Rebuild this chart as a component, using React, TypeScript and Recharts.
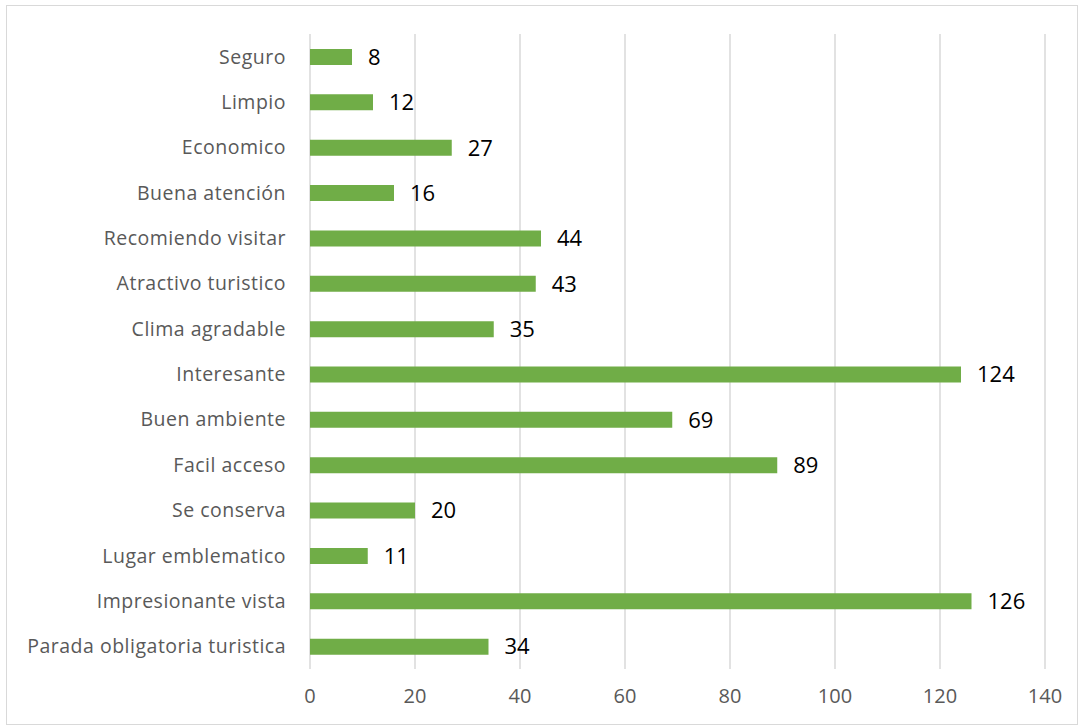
import React from 'react';
import { BarChart, Bar, XAxis, YAxis, CartesianGrid, LabelList } from 'recharts';

const categories = [
    'Seguro',
    'Limpio',
    'Economico',
    'Buena atención',
    'Recomiendo visitar',
    'Atractivo turistico',
    'Clima agradable',
    'Interesante',
    'Buen ambiente',
    'Facil acceso',
    'Se conserva',
    'Lugar emblematico',
    'Impresionante vista',
    'Parada obligatoria turistica',
];
const counts = [8, 12, 27, 16, 44, 43, 35, 124, 69, 89, 20, 11, 126, 34];
const xTicks = [0, 20, 40, 60, 80, 100, 120, 140];

const data = categories.map((name, i) => ({ name, value: counts[i] }));

const FONT = '"Open Sans", sans-serif';

const App: React.FC = () => {
    return (
        <div
            style={{
                position: 'absolute',
                left: 6,
                top: 5,
                width: 1070,
                height: 718,
                border: '1px solid #d9d9d9',
                background: '#fff',
                fontFamily: FONT,
            }}
        >
            <BarChart
                width={1070}
                height={718}
                data={data}
                layout="vertical"
                margin={{ top: 28, right: 32, bottom: 25, left: 0 }}
                barSize={16}
            >
                <CartesianGrid horizontal={false} stroke="#d9d9d9" strokeWidth={1.5} />
                <XAxis
                    type="number"
                    domain={[0, 140]}
                    ticks={xTicks}
                    axisLine={false}
                    tickLine={false}
                    tickSize={0}
                    tickMargin={20}
                    tick={{ fill: '#595959', fontSize: 20, fontFamily: FONT }}
                />
                <YAxis
                    type="category"
                    dataKey="name"
                    width={303}
                    axisLine={false}
                    tickLine={false}
                    tickSize={0}
                    tickMargin={24}
                    interval={0}
                    tick={{ fill: '#595959', fontSize: 19.5, fontFamily: FONT, letterSpacing: 0.5 }}
                />
                <Bar dataKey="value" fill="#70ad47" isAnimationActive={false}>
                    <LabelList
                        dataKey="value"
                        position="right"
                        offset={16}
                        fill="#000"
                        fontSize={22}
                        fontFamily={FONT}
                    />
                </Bar>
            </BarChart>
        </div>
    );
};

export default App;
